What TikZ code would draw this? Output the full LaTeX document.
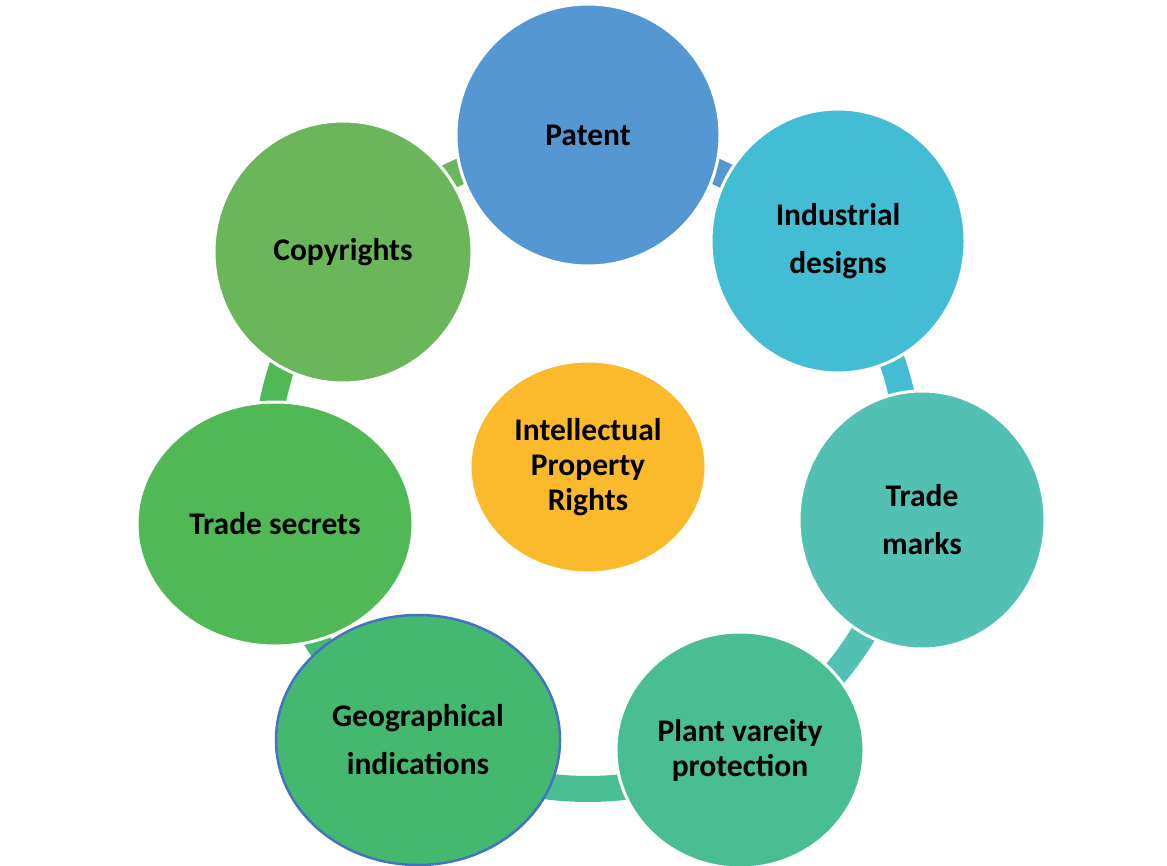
\documentclass[tikz,border=0pt]{standalone}
\usepackage{fontspec}
\setmainfont{Carlito}
\usetikzlibrary{shapes.geometric}
\definecolor{cPatent}{HTML}{5597D3}
\definecolor{cInd}{HTML}{43BDD4}
\definecolor{cTM}{HTML}{53C0B4}
\definecolor{cPlant}{HTML}{48BE92}
\definecolor{cGeo}{HTML}{45B870}
\definecolor{cGeoB}{HTML}{4472C4}
\definecolor{cTS}{HTML}{50B956}
\definecolor{cCopy}{HTML}{6BB55B}
\definecolor{cCenter}{HTML}{FBBA2C}
\tikzset{
  bubble/.style={ellipse, inner sep=0pt, draw=white, line width=3pt, align=center,
    font=\fontsize{31.5}{35}\selectfont\bfseries},
  ring/.style={line width=26pt, line cap=butt},
}
\begin{document}
\begin{tikzpicture}[x=1pt,y=1pt]
\useasboundingbox (0,0) rectangle (1167,-866);
\fill[white] (0,0) rectangle (1167,-866);
\coordinate (c) at (588,-467);
% ring connectors
\begin{scope}[shift={(c)}]
  \draw[ring, cPatent] (90:322) arc[start angle=90, end angle=42, radius=322];
  \draw[ring, cInd] (42:322) arc[start angle=42, end angle=-9, radius=322];
  \draw[ring, cTM] (-9:322) arc[start angle=-9, end angle=-62, radius=322];
  \draw[ring, cPlant] (-62:322) arc[start angle=-62, end angle=-122, radius=322];
  \draw[ring, cGeo] (-122:322) arc[start angle=-122, end angle=-170, radius=322];
  \draw[ring, cTS] (-170:322) arc[start angle=-170, end angle=-221, radius=322];
  \draw[ring, cCopy] (-221:322) arc[start angle=-221, end angle=-270, radius=322];
\end{scope}
% bubbles
\node[bubble, fill=cPatent, minimum width=264pt, minimum height=262pt] (patent) at (588,-135) {Patent};
\node[bubble, fill=cInd, minimum width=254pt, minimum height=264pt] (ind) at (838,-241) {Industrial\\[13pt]designs};
\node[bubble, fill=cTM, minimum width=246pt, minimum height=258pt] (tm) at (922,-520) {Trade\\[13pt]marks};
\node[bubble, fill=cPlant, minimum width=248pt, minimum height=236pt] (plant) at (740,-750) {Plant vareity\\protection};
\node[bubble, fill=cGeo, draw=cGeoB, line width=2.5pt, minimum width=284pt, minimum height=250pt] (geo) at (418,-740) {Geographical\\[13pt]indications};
\node[bubble, fill=cTS, minimum width=276pt, minimum height=244pt] (ts) at (275,-524) {Trade secrets};
\node[bubble, fill=cCopy, minimum width=258pt, minimum height=262pt] (copy) at (343,-252) {Copyrights};
\node[bubble, fill=cCenter, minimum width=236pt, minimum height=212pt] (ipr) at (588,-467) {Intellectual\\Property\\Rights};
\end{tikzpicture}
\end{document}
